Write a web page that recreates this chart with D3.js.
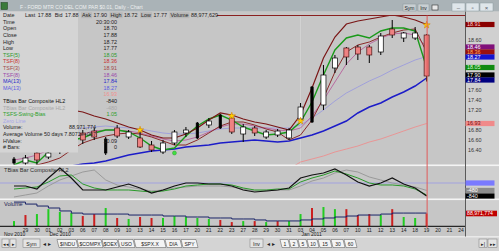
<!DOCTYPE html>
<html><head><meta charset="utf-8">
<script src="https://cdn.jsdelivr.net/npm/d3@7"></script>
<style>body{margin:0;background:#cdcdcd;overflow:hidden}svg{display:block;font-family:"Liberation Sans",Arial,sans-serif}</style>
</head><body><svg id="c" width="499" height="251"></svg>
<script>
const dates = ["2010-11-26","2010-11-29","2010-11-30","2010-12-01","2010-12-02","2010-12-03","2010-12-06","2010-12-07","2010-12-08","2010-12-09","2010-12-10","2010-12-13","2010-12-14","2010-12-15","2010-12-16","2010-12-17","2010-12-20","2010-12-21","2010-12-22","2010-12-23","2010-12-27","2010-12-28","2010-12-29","2010-12-30","2010-12-31","2011-01-03","2011-01-04","2011-01-05","2011-01-06","2011-01-07","2011-01-10","2011-01-11","2011-01-12","2011-01-13","2011-01-14","2011-01-18","2011-01-19","2011-01-20","2011-01-21","2011-01-24"];
const open  = [16.14,16.14,16.34,16.26,16.40,16.56,16.74,16.78,16.34,16.84,16.66,16.64,16.50,16.36,16.54,16.74,16.64,16.90,16.84,17.04,16.72,16.84,16.66,16.70,16.64,17.02,16.96,17.30,18.04,18.44,18.46,18.46,18.36,18.82,18.64,18.64,18.70];
const high  = [16.26,16.30,16.40,16.38,16.60,16.76,16.80,16.84,16.66,16.90,16.80,16.84,16.58,16.60,16.80,16.86,16.96,17.04,17.12,17.10,16.92,16.88,16.80,16.82,16.84,17.34,17.68,18.10,18.30,18.46,18.50,18.50,18.74,19.00,18.76,18.86,18.72];
const low   = [16.08,16.06,16.10,16.22,16.32,16.48,16.52,16.60,16.30,16.64,16.62,16.44,16.36,16.32,16.50,16.66,16.62,16.84,16.82,16.72,16.56,16.68,16.62,16.66,16.60,16.96,16.94,17.20,17.94,18.10,18.20,18.14,18.30,18.64,18.56,18.60,17.77];
const close = [16.22,16.24,16.20,16.34,16.56,16.72,16.60,16.66,16.62,16.68,16.76,16.46,16.40,16.54,16.76,16.80,16.94,16.98,17.10,16.76,16.86,16.74,16.76,16.78,16.80,17.26,17.66,17.90,18.24,18.26,18.32,18.30,18.68,18.70,18.74,18.74,17.88];
const candleKind = ["bar","up","down","up","up","up","down","down","bar","down","up","down","down","up","up","up","bar","up","bar","down","up","down","up","up","up","up","bar","up","up","down","down","down","up","down","up","up","down"];
const tsf3  = [16.40,16.60,16.84,17.04,17.16,17.20,17.16,17.08,17.02,16.94,16.86,16.80,16.70,16.64,16.64,16.72,16.84,17.00,17.14,17.10,17.02,16.96,16.92,16.86,16.80,17.10,17.64,18.24,18.66,18.92,18.98,19.02,19.06,19.10,19.06,19.00,18.91];
const tsf5  = [16.10,16.20,16.14,16.36,16.50,16.60,16.64,16.74,16.80,16.80,16.76,16.64,16.48,16.40,16.44,16.68,16.88,17.02,17.10,17.00,16.86,16.78,16.70,16.72,16.76,16.96,17.36,17.90,18.40,18.64,18.70,18.64,18.78,18.84,18.84,18.78,18.05];
const tsf8a = [16.00,16.04,16.10,16.16,16.24,16.40,16.54,16.62,16.68,16.72,16.74,16.72,16.66,16.58,16.50,16.50,16.60,16.74,16.88,16.96,16.96,16.90,16.82,16.76,16.60,16.70,17.00,17.44,17.96,18.36,18.50,18.56,18.66,18.74,18.80,18.82,18.36];
const tsf8b = [16.20,16.24,16.30,16.40,16.52,16.64,16.72,16.78,16.80,16.80,16.78,16.74,16.68,16.62,16.58,16.60,16.66,16.76,16.86,16.92,16.92,16.88,16.84,16.80,16.78,16.84,17.08,17.40,17.76,18.12,18.36,18.52,18.64,18.72,18.74,18.70,18.46];
const ma13a = [15.84,15.90,15.96,16.00,16.04,16.08,16.12,16.14,16.18,16.24,16.30,16.34,16.38,16.40,16.42,16.46,16.48,16.50,16.54,16.56,16.58,16.60,16.58,16.56,16.58,16.64,16.70,16.78,16.88,16.98,17.14,17.26,17.34,17.46,17.56,17.68,17.84];
const ma13b = [16.60,16.64,16.68,16.72,16.76,16.80,16.84,16.86,16.88,16.86,16.84,16.82,16.78,16.74,16.72,16.72,16.74,16.78,16.82,16.84,16.84,16.84,16.84,16.84,16.84,16.90,17.04,17.20,17.38,17.54,17.66,17.78,17.88,18.00,18.10,18.20,18.27];
const lowBand = [null,null,null,null,null,null,null,null,null,null,null,null,null,null,null,null,null,null,null,null,null,null,null,null,16.02,16.16,16.22,16.28,16.36,16.42,16.48,16.56,16.62,16.70,16.78,16.86,16.93];
const tbias     = [-194,-194,-388,323,969,323,-452,-452,-452,-258,-65,-323,-646,-452,-194,0,0,-65,-65,-194,-452,-581,-517,-452,-323,323,517,646,904,517,65,-194,0,323,-65,-323,-840];
const tbiasGray = [-904,-775,-646,-194,194,452,710,840,194,-129,-258,-388,-517,-452,-323,-258,-194,-194,-194,-258,-388,-517,-517,-452,-452,-194,129,323,646,840,710,388,194,0,-129,-258,-480];
const swingBias = [-388,-323,-258,65,452,517,-65,-323,-452,-452,-452,-517,-581,-517,-388,-194,-129,-65,-65,-129,-323,-452,-452,-388,-388,65,323,517,775,581,323,0,-129,-129,-194,-388,-775];
const volumeM   = [35,78,85,120,100,92,71,85,128,57,50,64,57,57,71,64,57,50,43,28,35,35,28,35,35,85,128,135,120,120,78,85,78,120,64,57,88.971774];
const volUp     = [1,0,1,1,1,1,0,0,1,0,1,0,0,1,1,1,1,1,0,0,1,0,1,0,1,1,0,1,1,0,0,0,1,0,1,1,0];
const avgVolM   = [170,156,142,128,107,92,85,85,85,85,78,78,78,71,71,64,64,57,57,50,50,43,36,36,36,43,50,57,64,71,78,78,85,92,92,92,92];
const starSignals = [{i:11,p:16.80},{i:19,p:17.08},{i:25,p:16.98},{i:36,p:18.90}];
const dotSignals  = [{i:14,p:16.34}];
const priceTicks = [16.40,16.60,16.80,17.00,17.20,17.40,17.60,17.80,18.00,18.20,18.40,18.60,18.80];
const symTabs = ["$INDU","$COMPX","$OEX","USO","$SPX.X","DIA","SPY"];
const periodTabs = ["1","2","5","10","15","30","60"];

const svg = d3.select("#c");
const R = 465;
const x = d3.scalePoint().domain(dates).range([14,461]);
const y = d3.scaleLinear().domain([16.10,19.40]).range([165,0]);
const yi = d3.scaleLinear().domain([-840,0]).range([196,183]);
const yv = d3.scaleLinear().domain([0,185]).range([226,200]);
const xi = i => x(dates[i]);
const f2 = d3.format(".2f");
const fv = v => d3.format(",")(Math.round(v*1e6));
const last = a => a[a.length-1];

// backgrounds
svg.append("rect").attr("width",499).attr("height",251).attr("fill","#cdcdcd");
svg.append("rect").attr("width",499).attr("height",11.5).attr("fill","#aab3b7");
svg.append("rect").attr("x",0).attr("y",11.5).attr("width",R).attr("height",153).attr("fill","#c6c6c6");
svg.append("rect").attr("x",0).attr("y",166).attr("width",R).attr("height",32.5).attr("fill","#c6c6c6");
svg.append("rect").attr("x",0).attr("y",200).attr("width",R).attr("height",36.5).attr("fill","#c6c6c6");
svg.append("rect").attr("x",R).attr("y",11.5).attr("width",34).attr("height",225).attr("fill","#d0d0d0");
svg.append("rect").attr("x",0).attr("y",164.5).attr("width",499).attr("height",1.6).attr("fill","#f4f4f4");
svg.append("rect").attr("x",0).attr("y",198.5).attr("width",499).attr("height",1.6).attr("fill","#f4f4f4");
svg.append("rect").attr("x",0).attr("y",236.5).attr("width",499).attr("height",14.5).attr("fill","#d4d4d4");
svg.append("line").attr("x1",0).attr("x2",499).attr("y1",236.8).attr("y2",236.8).attr("stroke","#f4f4f4").attr("stroke-width",1);

const defs = svg.append("defs");
defs.append("clipPath").attr("id","cm").append("rect").attr("x",0).attr("y",15.5).attr("width",R).attr("height",149);
defs.append("clipPath").attr("id","ci").append("rect").attr("x",0).attr("y",166).attr("width",R).attr("height",32.5);

// main panel
const main = svg.append("g").attr("clip-path","url(#cm)");
main.append("line").attr("x1",xi(25)).attr("x2",xi(25)).attr("y1",15).attr("y2",165).attr("stroke","#d6d6d6").attr("stroke-width",0.8);
const line = d3.line().defined(d=>d!=null).x((d,i)=>xi(i)).y(d=>y(d));
const series = [
  [lowBand,"#ec9090",0.9],[ma13b,"#9c9cdc",0.9],[ma13a,"#1c1cc8",1.5],
  [tsf8b,"#b8609c",0.9],[tsf8a,"#8a2a2a",1],[tsf5,"#1a9a1a",1.4],[tsf3,"#7a1616",1.2]
];
series.forEach(([d,c,w])=>{
  main.append("path").attr("d",line(d)).attr("fill","none").attr("stroke",c).attr("stroke-width",w);
});
close.forEach((c,i)=>{
  const cx = xi(i), k = candleKind[i];
  main.append("line").attr("x1",cx).attr("x2",cx).attr("y1",y(high[i])).attr("y2",y(low[i])).attr("stroke","#000").attr("stroke-width",1);
  const top = y(Math.max(open[i],c)), bot = y(Math.min(open[i],c));
  const bw = k==="bar" ? 2.4 : 5;
  main.append("rect").attr("x",cx-bw/2).attr("y",top).attr("width",bw).attr("height",Math.max(1,bot-top))
    .attr("fill", k==="up" ? "#ffffff" : k==="down" ? "#ee8282" : "#000")
    .attr("stroke", k==="down" ? "#4a1414" : "#000").attr("stroke-width",0.7);
});
starSignals.forEach(s=>{
  main.append("path").attr("d",d3.symbol(d3.symbolStar,16)()).attr("transform",`translate(${xi(s.i)},${y(s.p)})`)
    .attr("fill","#ffd400").attr("stroke","#d07800").attr("stroke-width",0.5);
});
dotSignals.forEach(s=>{
  main.append("circle").attr("cx",xi(s.i)).attr("cy",y(s.p)).attr("r",2).attr("fill","#40e040").attr("stroke","#209020").attr("stroke-width",0.4);
});
svg.append("line").attr("x1",217).attr("x2",R).attr("y1",15.5).attr("y2",15.5).attr("stroke","#8a2020").attr("stroke-width",1);

// indicator panel
const ind = svg.append("g").attr("clip-path","url(#ci)");
ind.append("line").attr("x1",0).attr("x2",R).attr("y1",yi(0)).attr("y2",yi(0)).attr("stroke","#9a9ae6").attr("stroke-width",0.8);
const iline = d3.line().x((d,i)=>xi(i)).y(d=>yi(d));
[[tbiasGray,"#9a9a9a",1],[swingBias,"#2a9a2a",1],[tbias,"#111",1.2]].forEach(([d,c,w])=>{
  ind.append("path").attr("d",iline(d)).attr("fill","none").attr("stroke",c).attr("stroke-width",w);
});
svg.append("text").attr("x",4).attr("y",172).attr("font-size",5.6).attr("fill","#303030").text("TBias Bar Composite HL2");

// volume panel
volumeM.forEach((v,i)=>{
  svg.append("rect").attr("x",xi(i)-1).attr("y",yv(v)).attr("width",2).attr("height",yv(0)-yv(v))
    .attr("fill", volUp[i] ? "#22cc22" : "#cc2020");
});
svg.append("path").attr("d",d3.line().curve(d3.curveStepAfter).x((d,i)=>xi(i)).y(d=>yv(d))(avgVolM))
  .attr("fill","none").attr("stroke","#1a2468").attr("stroke-width",1);
svg.append("line").attr("x1",0).attr("x2",R).attr("y1",226.3).attr("y2",226.3).attr("stroke","#000").attr("stroke-width",1);
svg.append("text").attr("x",4).attr("y",205.5).attr("font-size",5.6).attr("fill","#202050").text("Volume");
dates.forEach((d,i)=>{
  if(i===0) return;
  svg.append("text").attr("x",xi(i)).attr("y",231.5).attr("text-anchor","middle").attr("font-size",5).attr("fill","#202020").text(d.slice(8));
});
const mfmt = d3.timeFormat("%b %Y"), parse = d3.timeParse("%Y-%m-%d");
dates.forEach((d,i)=>{
  if(i===0 || d.slice(5,7)!==dates[i-1].slice(5,7)){
    svg.append("text").attr("x", i===0 ? 4 : xi(i)+1).attr("y",236).attr("font-size",5).attr("fill","#202020").text(mfmt(parse(d)));
  }
});

// cursor line
svg.append("line").attr("x1",xi(36)+0.5).attr("x2",xi(36)+0.5).attr("y1",15.5).attr("y2",228).attr("stroke","#e05a5a").attr("stroke-width",1);

// right axis
svg.append("line").attr("x1",R+0.5).attr("x2",R+0.5).attr("y1",11.5).attr("y2",236.5).attr("stroke","#5a5a5a").attr("stroke-width",1);
function resolve(list){
  list.sort((a,b)=>a.cy-b.cy);
  let prev=-99;
  list.forEach(t=>{ if(t.cy<prev+5) t.cy=prev+5; prev=t.cy; });
  return list;
}
function drawTags(list){
  list.forEach(t=>{
    svg.append("rect").attr("x",R+0.5).attr("y",t.cy-2.6).attr("width",29).attr("height",5.2).attr("fill",t.bg);
    svg.append("text").attr("x",R+2).attr("y",t.cy+1.9).attr("font-size",5.4).attr("fill",t.fg).text(t.txt);
  });
}
const priceTags = resolve([
  {cy:y(last(tsf3)),bg:"#8a0000",fg:"#ffd0d0",txt:f2(last(tsf3))},
  {cy:y(last(tsf8b)),bg:"#80107a",fg:"#ffffff",txt:f2(last(tsf8b))},
  {cy:y(last(tsf8a)),bg:"#9a1010",fg:"#ffb060",txt:f2(last(tsf8a))},
  {cy:y(last(ma13b)),bg:"#1414d0",fg:"#ffffff",txt:f2(last(ma13b))},
  {cy:y(last(tsf5)),bg:"#108a10",fg:"#d8ffd8",txt:f2(last(tsf5))},
  {cy:y(17.90),bg:"#000000",fg:"#ffffff",txt:"17.90"},
  {cy:y(last(ma13a)),bg:"#000080",fg:"#ffffff",txt:f2(last(ma13a))},
  {cy:y(last(lowBand)),bg:"#f08a8a",fg:"#701010",txt:f2(last(lowBand))}
]);
priceTicks.forEach(p=>{
  if(priceTags.some(t=>Math.abs(t.cy-y(p))<5.5)) return;
  svg.append("text").attr("x",R+3).attr("y",y(p)+2).attr("font-size",5.4).attr("fill","#333").text(f2(p));
});
drawTags(priceTags);
drawTags(resolve([
  {cy:yi(0),bg:"#7a7aff",fg:"#eeeeff",txt:""},
  {cy:yi(last(tbiasGray)),bg:"#8c8c8c",fg:"#ffffff",txt:String(last(tbiasGray))},
  {cy:yi(last(tbias)),bg:"#000",fg:"#ffffff",txt:String(last(tbias))}
]));
svg.append("rect").attr("x",R+1).attr("y",yv(last(volumeM))-2.8).attr("width",31).attr("height",5.6).attr("fill","#c00000");
svg.append("text").attr("x",R+2).attr("y",yv(last(volumeM))+1.8).attr("font-size",5.2).attr("fill","#fff").text(fv(last(volumeM)));

// info panel
svg.append("rect").attr("x",0).attr("y",11.5).attr("width",78).attr("height",141).attr("fill","#d4d4d4");
const rows = [
  ["Date","","#222"],["Time","20:30:00","#222"],["Open",f2(last(open)),"#222"],["Close",f2(last(close)),"#222"],
  ["High",f2(last(high)),"#222"],["Low",f2(last(low)),"#222"],
  ["TSF(5)",f2(last(tsf5)),"#2a9a2a"],["TSF(8)",f2(last(tsf8a)),"#c83030"],["TSF(3)",f2(last(tsf3)),"#a04848"],
  ["TSF(8)",f2(last(tsf8b)),"#9a48aa"],["MA(13)",f2(last(ma13a)),"#2a2ac8"],["MA(13)",f2(last(ma13b)),"#5a5ae0"],
  ["",f2(last(lowBand)),"#f09090"],["TBias Bar Composite HL2",String(last(tbias)),"#111"],
  ["TBias Bar Composite HL2",String(last(tbiasGray)),"#a8a8a8"],["TSFS-Swing-Bias","1.05","#2aa02a"],
  ["Zero Line","","#a8a8e8"],["Volume:",fv(last(volumeM)),"#222"],["Average Volume 50 days","7.8071e+007","#222"],
  ["HValue:","10.09","#222"],["# Bars:","0","#222"]
];
rows.forEach((r,k)=>{
  const by = 17.2 + k*6.6;
  svg.append("text").attr("x",3).attr("y",by).attr("font-size",5.4).attr("fill",r[2]).text(r[0]);
  if(r[1]) svg.append("text").attr("x", k>=17 && k<=18 ? 96 : 117).attr("y",by).attr("text-anchor","end")
    .attr("font-size",5.4).attr("fill",r[2]).text(r[1]);
});
const quote = [["Last","17.88"],["Bid","17.88"],["Ask","17.90"],["High","18.72"],["Low","17.77"],["Volume","88,977,629"]];
let qx = 25;
quote.forEach(([l,v])=>{
  const t1 = svg.append("text").attr("x",qx).attr("y",17.2).attr("font-size",5.4).attr("fill","#222").text(l);
  const w1 = t1.node().getComputedTextLength();
  svg.insert("rect","text").attr("x",qx-1).attr("y",12.2).attr("width",w1+2).attr("height",6).attr("fill","#b8b8b8");
  qx += w1 + 2.5;
  const t2 = svg.append("text").attr("x",qx).attr("y",17.2).attr("font-size",5.4).attr("fill","#222").text(v);
  qx += t2.node().getComputedTextLength() + 3.5;
});

// title bar
svg.append("rect").attr("x",1).attr("y",2.5).attr("width",6.5).attr("height",7).attr("fill","#3a7a3a").attr("stroke","#1a3a1a").attr("stroke-width",0.5);
svg.append("text").attr("x",20).attr("y",9).attr("font-size",5).attr("fill","#eef0f0").text("F - FORD MTR CO DEL COM PAR $0.01, Daily - Chart");
[["Sym",403,13],["Inv",418,11]].forEach(([t,bx,bw])=>{
  svg.append("rect").attr("x",bx).attr("y",4).attr("width",bw).attr("height",7).attr("fill","#c8cfd2").attr("stroke","#8a969a").attr("stroke-width",0.5);
  svg.append("text").attr("x",bx+bw/2).attr("y",9.6).attr("text-anchor","middle").attr("font-size",5).attr("fill","#222").text(t);
});
svg.append("rect").attr("x",432).attr("y",5).attr("width",6).attr("height",5).attr("fill","#e8e8e8").attr("stroke","#333").attr("stroke-width",0.6);
[[452,"–"],[466,"▫"],[480,"×"]].forEach(([bx,g])=>{
  svg.append("rect").attr("x",bx).attr("y",3).attr("width",13).attr("height",8).attr("fill","#dfe6ea").attr("stroke","#8a9aa0").attr("stroke-width",0.5);
  svg.append("text").attr("x",bx+6.5).attr("y",9.5).attr("text-anchor","middle").attr("font-size",6).attr("fill","#556").text(g);
});

// bottom tab bar
function btn(bx,bw,t){
  svg.append("rect").attr("x",bx).attr("y",239).attr("width",bw).attr("height",8.5).attr("fill","#e4e4e4").attr("stroke","#777").attr("stroke-width",0.5);
  svg.append("text").attr("x",bx+bw/2).attr("y",245.5).attr("text-anchor","middle").attr("font-size",5.2).attr("fill","#222").text(t);
}
btn(2,7,"◂◂"); btn(10,6,"▸"); btn(23,17,"Sym");
svg.append("text").attr("x",43).attr("y",245.5).attr("font-size",5.5).attr("fill","#222").text("◂ ▸");
function tabsRow(list,startX,widths){
  let tx = startX;
  list.forEach((t,k)=>{
    const w = widths[k];
    svg.append("path").attr("d",`M${tx},239.5 L${tx+w},239.5 L${tx+w+2},247.5 L${tx+2},247.5 Z`).attr("fill","#f4f4f4").attr("stroke","#555").attr("stroke-width",0.5);
    svg.append("text").attr("x",tx+1+w/2).attr("y",245.6).attr("text-anchor","middle").attr("font-size",5).attr("fill","#222").text(t);
    tx += w + 1;
  });
}
tabsRow(symTabs,57,[19,24,15,15,30,15,15]);
btn(250,13,"Inv");
svg.append("text").attr("x",267).attr("y",245.5).attr("font-size",5.5).attr("fill","#222").text("◂ ▸");
tabsRow(periodTabs,280,[8,8,8,10,12,12,11]);
btn(479,8,"▸|"); btn(488,9,"▸▸");
</script></body></html>
